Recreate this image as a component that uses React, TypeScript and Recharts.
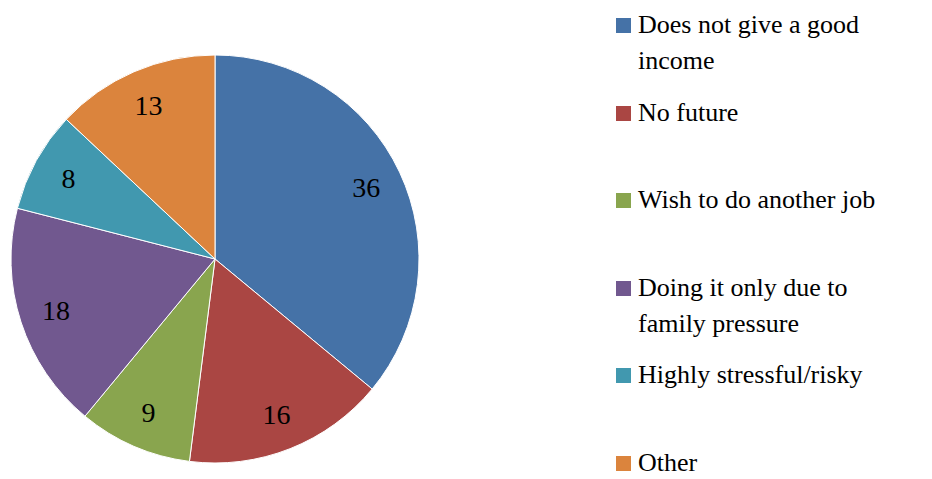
import { PieChart, Pie, Cell, Legend } from "recharts";

const reasons = [
  "Does not give a good income",
  "No future",
  "Wish to do another job",
  "Doing it only due to family pressure",
  "Highly stressful/risky",
  "Other",
];
const counts = [36, 16, 9, 18, 8, 13];
const colors = ["#4572A7", "#AA4643", "#89A54E", "#71588F", "#4198AF", "#DB843D"];

const data = reasons.map((name, i) => ({ name, value: counts[i] }));

const RAD = Math.PI / 180;
const serif = "Times New Roman, Liberation Serif, Tinos, DejaVu Serif, serif";

const renderLabel = (props: any) => {
  const { cx, cy, midAngle, outerRadius, value } = props;
  const r = outerRadius * 0.82;
  const x = cx + r * Math.cos(-midAngle * RAD);
  const y = cy + r * Math.sin(-midAngle * RAD);
  return (
    <text
      x={x}
      y={y}
      textAnchor="middle"
      dominantBaseline="central"
      fill="#000"
      style={{ fontFamily: serif, fontSize: 28 }}
    >
      {value}
    </text>
  );
};

const renderLegend = () => (
  <div style={{ fontFamily: serif, fontSize: 26, color: "#000", position: "relative" }}>
    {data.map((d, i) => (
      <div
        key={d.name}
        style={{
          position: "absolute",
          top: i * 87.6,
          left: 0,
          width: 300,
          display: "flex",
          alignItems: "flex-start",
          lineHeight: "36px",
        }}
      >
        <span
          style={{
            width: 15,
            height: 15,
            background: colors[i],
            marginTop: 11,
            marginRight: 7,
            flexShrink: 0,
          }}
        />
        <span>{d.name}</span>
      </div>
    ))}
  </div>
);

export default function App() {
  return (
    <div style={{ position: "absolute", left: 0, top: 0, width: 932, height: 479, background: "#fff" }}>
      <PieChart width={932} height={479} margin={{ top: 0, right: 0, bottom: 0, left: 0 }}>
        <Pie
          data={data}
          dataKey="value"
          nameKey="name"
          cx={215}
          cy={259}
          outerRadius={204}
          startAngle={90}
          endAngle={-270}
          stroke="#ffffff"
          strokeWidth={1}
          label={renderLabel}
          labelLine={false}
          isAnimationActive={false}
        >
          {data.map((_, i) => (
            <Cell key={i} fill={colors[i]} />
          ))}
        </Pie>
        <Legend
          content={renderLegend}
          wrapperStyle={{ position: "absolute", left: 616, top: 7, width: 316, height: 472 }}
        />
      </PieChart>
    </div>
  );
}
